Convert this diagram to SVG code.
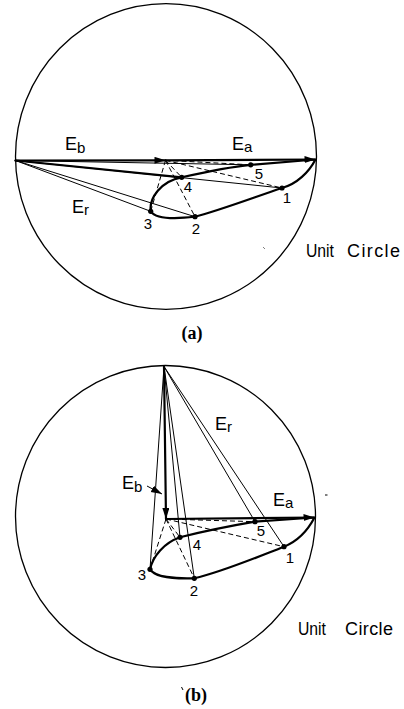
<svg xmlns="http://www.w3.org/2000/svg" width="404" height="709" viewBox="0 0 404 709">
<style>
.bg{fill:#fff}
.circ{fill:none;stroke:#000;stroke-width:1.3}
.thick{fill:none;stroke:#000;stroke-width:2.2;stroke-linecap:round}
.thin{fill:none;stroke:#000;stroke-width:1}
.dash{fill:none;stroke:#000;stroke-width:1;stroke-dasharray:5 3}
.locus{fill:none;stroke:#000;stroke-width:2.2;stroke-linejoin:round}
.dot{fill:#000}
.lbl{font-family:"Liberation Sans",Arial,sans-serif;font-size:18px;fill:#000}
.sub{font-size:15px}
.uc{font-family:"Liberation Sans",Arial,sans-serif;font-size:18px;fill:#000}
.num{font-family:"Liberation Sans",Arial,sans-serif;font-size:15px;fill:#000;text-anchor:middle}
.cap{font-family:"Liberation Serif","Times New Roman",serif;font-size:18px;font-weight:bold;fill:#000;text-anchor:middle}
.speck{stroke:#000;stroke-width:1}
</style>
<defs>
<marker id="ah" markerUnits="userSpaceOnUse" markerWidth="12" markerHeight="8" refX="11" refY="3.5" orient="auto">
<path d="M0,0 L11,3.5 L0,7 Z" fill="#000"/>
</marker>
</defs>
<rect class="bg" x="0" y="0" width="404" height="709"/>

<!-- ===== Diagram (a) ===== -->
<g id="a-unit-circle">
<ellipse class="circ" cx="166" cy="156.5" rx="150.5" ry="152.8"/>
<text class="uc" x="306" y="256.5"><tspan textLength="28" lengthAdjust="spacingAndGlyphs">Unit</tspan><tspan x="347" textLength="53" lengthAdjust="spacing">Circle</tspan></text>
</g>
<g id="a-connectors">
<line class="thin" x1="15.5" y1="160.5" x2="250.7" y2="164.8"/>
<line class="thin" x1="15.5" y1="160.5" x2="282" y2="188"/>
<line class="thin" x1="15.5" y1="160.5" x2="195" y2="216.7"/>
<line class="thin" x1="15.5" y1="160.5" x2="150.7" y2="211.3"/>
<line class="thick" x1="15.5" y1="160.5" x2="181.7" y2="177.3"/>
<line class="dash" x1="165.5" y1="160.3" x2="150.7" y2="211.3"/>
<line class="dash" x1="165.5" y1="160.3" x2="195" y2="216.7"/>
<line class="dash" x1="165.5" y1="160.3" x2="181.7" y2="177.3"/>
<line class="dash" x1="165.5" y1="160.3" x2="282" y2="188"/>
<line class="dash" x1="165.5" y1="160.3" x2="250.7" y2="164.8"/>
<line id="a-Eb" class="thick" x1="15.5" y1="160.5" x2="165.5" y2="160.3" marker-end="url(#ah)"/>
<line id="a-Ea" class="thick" x1="165.5" y1="160.3" x2="315.5" y2="159.5" marker-end="url(#ah)"/>
<path id="a-locus" class="locus" d="M315.5,159.5 C309,172 297,184 282,188 C255,197 218,211 195,216.7 C176,219 156,219 150.7,211.3 C149,198 161,181 181.7,177.3 C205,172 228,167 250.7,164.8 L315.5,159.5"/>
<text class="lbl" x="65" y="150">E<tspan class="sub" dy="3">b</tspan></text>
<text class="lbl" x="232" y="150">E<tspan class="sub" dy="2">a</tspan></text>
<text class="lbl" x="72" y="213">E<tspan class="sub" dy="2">r</tspan></text>
</g>
<g id="a-p1"><circle class="dot" cx="282" cy="188" r="2.6"/><text class="num" x="287" y="203">1</text></g>
<g id="a-p2"><circle class="dot" cx="195" cy="216.7" r="2.6"/><text class="num" x="196" y="234">2</text></g>
<g id="a-p3"><circle class="dot" cx="150.7" cy="211.3" r="2.6"/><text class="num" x="148" y="229">3</text></g>
<g id="a-p4"><circle class="dot" cx="181.7" cy="177.3" r="2.6"/><text class="num" x="188" y="192">4</text></g>
<g id="a-p5"><circle class="dot" cx="250.7" cy="164.8" r="2.6"/><text class="num" x="259" y="179">5</text></g>
<line class="speck" x1="263.5" y1="247.5" x2="264.5" y2="248.5"/>
<text class="cap" x="192" y="339">(a)</text>

<!-- ===== Diagram (b) ===== -->
<g id="b-unit-circle">
<ellipse class="circ" cx="165.5" cy="516.5" rx="150" ry="151"/>
<text class="uc" x="298" y="635"><tspan textLength="28" lengthAdjust="spacingAndGlyphs">Unit</tspan><tspan x="345" textLength="48" lengthAdjust="spacing">Circle</tspan></text>
</g>
<g id="b-connectors">
<line class="thin" x1="164" y1="366.5" x2="150" y2="569.3"/>
<line class="thin" x1="164" y1="366.5" x2="180" y2="537.3"/>
<line class="thin" x1="164" y1="366.5" x2="194.3" y2="578.3"/>
<line class="thin" x1="164" y1="366.5" x2="255" y2="521.7"/>
<line class="thin" x1="164" y1="366.5" x2="284" y2="546.7"/>
<line class="dash" x1="166" y1="519" x2="150" y2="569.3"/>
<line class="dash" x1="166" y1="519" x2="194.3" y2="578.3"/>
<line class="dash" x1="166" y1="519" x2="180" y2="537.3"/>
<line class="dash" x1="166" y1="519" x2="284" y2="546.7"/>
<line class="dash" x1="166" y1="519" x2="255" y2="521.7"/>
<line id="b-Eb" class="thick" x1="164" y1="366.5" x2="166" y2="519" marker-end="url(#ah)"/>
<line id="b-Ea" class="thick" x1="166" y1="519" x2="314.5" y2="517.5" marker-end="url(#ah)"/>
<path id="b-locus" class="locus" d="M314.5,517.5 C308,530 298,541 284,546.7 C255,558 222,572 194.3,578.3 C175,579 155,577 150,569.3 C153,556 164,543 180,537.3 C205,531 230,526 255,521.7 L314.5,517.5"/>
<line class="thin" x1="147" y1="486" x2="162" y2="494" marker-end="url(#ah)"/>
<text class="lbl" x="122" y="489">E<tspan class="sub" dy="3">b</tspan></text>
<text class="lbl" x="273" y="506">E<tspan class="sub" dy="2">a</tspan></text>
<text class="lbl" x="215" y="430">E<tspan class="sub" dy="2">r</tspan></text>
</g>
<g id="b-p1"><circle class="dot" cx="284" cy="546.7" r="2.6"/><text class="num" x="290" y="563">1</text></g>
<g id="b-p2"><circle class="dot" cx="194.3" cy="578.3" r="2.6"/><text class="num" x="194" y="596">2</text></g>
<g id="b-p3"><circle class="dot" cx="150" cy="569.3" r="2.6"/><text class="num" x="142" y="580">3</text></g>
<g id="b-p4"><circle class="dot" cx="180" cy="537.3" r="2.6"/><text class="num" x="197" y="550">4</text></g>
<g id="b-p5"><circle class="dot" cx="255" cy="521.7" r="2.6"/><text class="num" x="261" y="536">5</text></g>
<line class="speck" x1="325" y1="495" x2="327.5" y2="495"/>
<line class="speck" x1="181.5" y1="687" x2="183" y2="690"/>
<text class="cap" x="196" y="701">(b)</text>
</svg>
